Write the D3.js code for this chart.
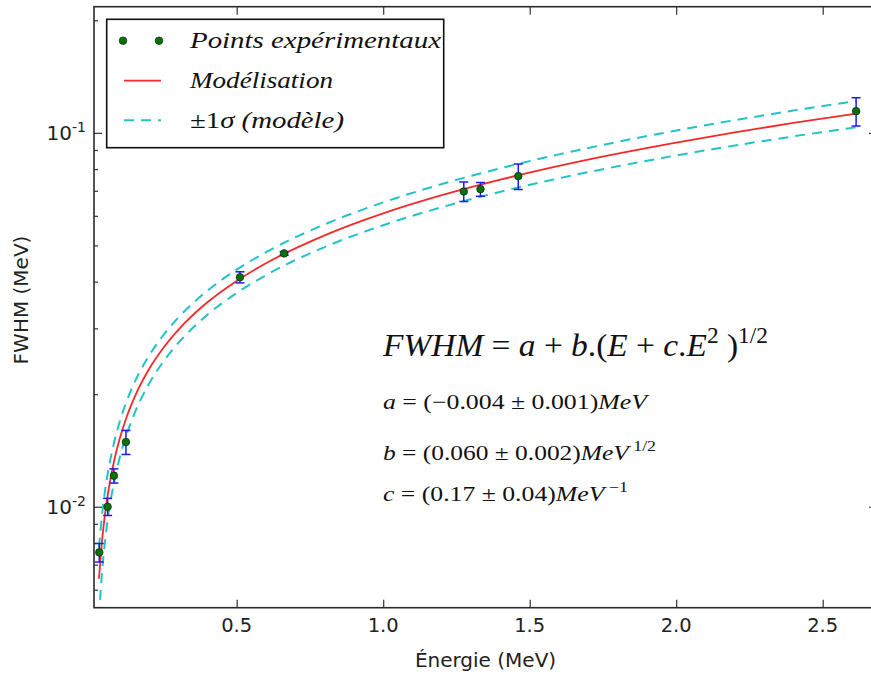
<!DOCTYPE html>
<html>
<head>
<meta charset="utf-8">
<script src="https://cdn.jsdelivr.net/npm/d3@7"></script>
<style>
  html, body { margin: 0; padding: 0; background: #ffffff; }
  svg { display: block; }
  text { white-space: pre; }
</style>
</head>
<body>
<div id="chart"></div>
<script>
// ---------------- data ----------------
const energies = [0.031, 0.0595, 0.081, 0.122, 0.511, 0.662, 1.275, 1.332, 1.461, 2.614];
const fwhm     = [0.00755, 0.0100, 0.0121, 0.0149, 0.0411, 0.0476, 0.0697, 0.0707, 0.0766, 0.1143];
const fwhmErr  = [0.00043, 0.00053, 0.00053, 0.0011, 0.0014, 0.0005, 0.0042, 0.0030, 0.0060, 0.0099];

const modelE     = [0.03, 0.04, 0.05, 0.06, 0.08, 0.1, 0.125, 0.15, 0.2, 0.25, 0.3, 0.4, 0.5, 0.6, 0.8, 1.0, 1.2, 1.4, 1.6, 1.8, 2.0, 2.2, 2.4, 2.614];
const modelFWHM  = [0.00642, 0.00804, 0.00947, 0.01077, 0.01309, 0.01513, 0.01744, 0.01953, 0.02329, 0.02663, 0.02969, 0.03522, 0.04019, 0.04479, 0.05320, 0.06090, 0.06812, 0.07499, 0.08160, 0.08799, 0.09422, 0.10032, 0.10630, 0.11259];
const modelUpper = [0.00777, 0.00945, 0.01094, 0.01228, 0.01468, 0.01681, 0.01920, 0.02139, 0.02530, 0.02880, 0.03201, 0.03782, 0.04307, 0.04795, 0.05691, 0.06517, 0.07296, 0.08041, 0.08760, 0.09460, 0.10143, 0.10814, 0.11473, 0.12169];
const modelLower = [0.00507, 0.00663, 0.00801, 0.00926, 0.01149, 0.01346, 0.01567, 0.01768, 0.02127, 0.02446, 0.02738, 0.03262, 0.03731, 0.04163, 0.04949, 0.05663, 0.06328, 0.06957, 0.07559, 0.08139, 0.08702, 0.09250, 0.09786, 0.10348];

const xTicks = [0.5, 1.0, 1.5, 2.0, 2.5];
const xTickLabels = ["0.5", "1.0", "1.5", "2.0", "2.5"];
const yMajorTicks = [0.01, 0.1];
const yMajorLabels = [["10", "-2"], ["10", "-1"]];
const yMinorTicks = [0.006, 0.007, 0.008, 0.009, 0.02, 0.03, 0.04, 0.05, 0.06, 0.07, 0.08, 0.09, 0.2];

const legendLabels = ["Points expérimentaux", "Modélisation", "\u00B11\u03C3 (modèle)"];

// ---------------- layout ----------------
const W = 871, H = 674;
const L = 94, T = 6.7, R = 877, B = 607.7;

const svg = d3.select("#chart").append("svg").attr("width", W).attr("height", H);

const x = d3.scaleLinear().domain([0.013, 2.6853]).range([L, R]);
const y = d3.scaleLog().domain([0.00537, 0.2175]).range([B, T]);

svg.append("clipPath").attr("id", "plotclip")
  .append("rect").attr("x", L).attr("y", T).attr("width", R - L).attr("height", B - T);

const plot = svg.append("g").attr("clip-path", "url(#plotclip)");

const pts = (xs, ys) => xs.map((e, i) => [e, ys[i]]);
const line = d3.line().x(d => x(d[0])).y(d => y(d[1])).curve(d3.curveMonotoneX);

// sigma bands
[modelUpper, modelLower].forEach(arr => {
  plot.append("path")
    .attr("d", line(pts(modelE, arr)))
    .attr("fill", "none")
    .attr("stroke", "#20c4c8")
    .attr("stroke-width", 2)
    .attr("stroke-dasharray", "10,7");
});

// model
plot.append("path")
  .attr("d", line(pts(modelE, modelFWHM)))
  .attr("fill", "none")
  .attr("stroke", "#f22a2a")
  .attr("stroke-width", 1.8);

// error bars
const eb = plot.append("g").attr("stroke", "#1a1aff").attr("stroke-width", 1.5).attr("fill", "none");
energies.forEach((e, i) => {
  const cx = x(e), y1 = y(fwhm[i] + fwhmErr[i]), y2 = y(fwhm[i] - fwhmErr[i]);
  eb.append("line").attr("x1", cx).attr("x2", cx).attr("y1", y1).attr("y2", y2);
  eb.append("line").attr("x1", cx - 4.5).attr("x2", cx + 4.5).attr("y1", y1).attr("y2", y1);
  eb.append("line").attr("x1", cx - 4.5).attr("x2", cx + 4.5).attr("y1", y2).attr("y2", y2);
});

// points
plot.append("g").selectAll("circle")
  .data(energies.map((e, i) => [e, fwhm[i]]))
  .join("circle")
  .attr("cx", d => x(d[0])).attr("cy", d => y(d[1]))
  .attr("r", 3.8)
  .attr("fill", "#0a700a")
  .attr("stroke", "#0a2a0a")
  .attr("stroke-width", 0.7);

// ---------------- axes ----------------
const tickColor = "#333";
function styleAxis(g) {
  g.select(".domain").remove();
  g.selectAll(".tick line").attr("stroke", tickColor).attr("stroke-width", 1.2);
}
svg.append("g").attr("transform", `translate(0,${B})`)
  .call(d3.axisBottom(x).tickValues(xTicks).tickSize(-8).tickFormat(""))
  .call(styleAxis);
svg.append("g").attr("transform", `translate(0,${T})`)
  .call(d3.axisTop(x).tickValues(xTicks).tickSize(-8).tickFormat(""))
  .call(styleAxis);
svg.append("g").attr("transform", `translate(${L},0)`)
  .call(d3.axisLeft(y).tickValues(yMajorTicks).tickSize(-8).tickFormat(""))
  .call(styleAxis);
svg.append("g").attr("transform", `translate(${L},0)`)
  .call(d3.axisLeft(y).tickValues(yMinorTicks).tickSize(-4).tickFormat(""))
  .call(styleAxis);
svg.append("g").attr("transform", `translate(${R},0)`)
  .call(d3.axisRight(y).tickValues(yMajorTicks).tickSize(-8).tickFormat(""))
  .call(styleAxis);
svg.append("g").attr("transform", `translate(${R},0)`)
  .call(d3.axisRight(y).tickValues(yMinorTicks).tickSize(-4).tickFormat(""))
  .call(styleAxis);

// frame
svg.append("rect").attr("x", L).attr("y", T).attr("width", R - L).attr("height", B - T)
  .attr("fill", "none").attr("stroke", "#2a2a2a").attr("stroke-width", 1.6);

// tick labels
const sans = "'DejaVu Sans', sans-serif";
svg.append("g").selectAll("text").data(xTicks).join("text")
  .attr("x", d => x(d)).attr("y", B + 24)
  .attr("text-anchor", "middle")
  .attr("font-family", sans).attr("font-size", 19.5).attr("fill", "#222")
  .text((d, i) => xTickLabels[i]);

yMajorTicks.forEach((v, i) => {
  const t = svg.append("text")
    .attr("x", 86).attr("y", y(v) + 7.5)
    .attr("text-anchor", "end")
    .attr("font-family", sans).attr("font-size", 20).attr("fill", "#222");
  t.append("tspan").text(yMajorLabels[i][0]);
  t.append("tspan").attr("font-size", 14).attr("dy", -8).text(yMajorLabels[i][1]);
});

// axis labels
svg.append("text")
  .attr("x", (L + R) / 2).attr("y", 667)
  .attr("text-anchor", "middle")
  .attr("font-family", sans).attr("font-size", 20).attr("fill", "#222")
  .text("Énergie (MeV)");
svg.append("text")
  .attr("transform", `translate(28,300) rotate(-90)`)
  .attr("text-anchor", "middle")
  .attr("font-family", sans).attr("font-size", 20).attr("fill", "#222")
  .text("FWHM (MeV)");

// ---------------- equation text ----------------
const serif = "Liberation Serif, Times New Roman, serif";
function mathText(xp, yp, size, parts, len) {
  const t = svg.append("text").attr("x", xp).attr("y", yp)
    .attr("font-family", serif).attr("font-size", size).attr("fill", "#111");
  let shift = 0;
  parts.forEach(p => {
    const s = t.append("tspan").text(p.t);
    if (p.it) s.attr("font-style", "italic");
    const target = p.sup ? -size * 0.42 : 0;
    if (target !== shift) { s.attr("dy", target - shift); shift = target; }
    if (p.sup) s.attr("font-size", size * 0.7);
  });
  if (len) t.attr("textLength", len).attr("lengthAdjust", "spacingAndGlyphs");
  return t;
}
mathText(383, 356, 32, [
  {t: "FWHM", it: true}, {t: " = "}, {t: "a", it: true}, {t: " + "}, {t: "b", it: true},
  {t: ".("}, {t: "E", it: true}, {t: " + "}, {t: "c", it: true}, {t: "."}, {t: "E", it: true},
  {t: "2", sup: true}, {t: " )"}, {t: "1/2", sup: true}
], 385);
mathText(383, 409, 21, [
  {t: "a", it: true}, {t: " = (\u22120.004 \u00B1 0.001)"}, {t: "MeV", it: true}
], 264);
mathText(383, 460, 21, [
  {t: "b", it: true}, {t: " = (0.060 \u00B1 0.002)"}, {t: "MeV", it: true}, {t: " 1/2", sup: true}
], 273);
mathText(383, 501, 21, [
  {t: "c", it: true}, {t: " = (0.17 \u00B1 0.04)"}, {t: "MeV", it: true}, {t: " \u22121", sup: true}
], 245);

// ---------------- legend ----------------
const lg = svg.append("g");
lg.append("rect").attr("x", 106.7).attr("y", 19.3).attr("width", 337).attr("height", 128.4)
  .attr("fill", "#fff").attr("stroke", "#111").attr("stroke-width", 1.6);
const rowY = [40.7, 80.7, 120.3];
const legendLens = [251, 143, 154];
[123, 159].forEach(cx => {
  lg.append("circle").attr("cx", cx).attr("cy", rowY[0]).attr("r", 3.8)
    .attr("fill", "#0a700a").attr("stroke", "#0a2a0a").attr("stroke-width", 0.7);
});
lg.append("line").attr("x1", 124).attr("x2", 161).attr("y1", rowY[1]).attr("y2", rowY[1])
  .attr("stroke", "#f22a2a").attr("stroke-width", 1.8);
lg.append("line").attr("x1", 124).attr("x2", 161).attr("y1", rowY[2]).attr("y2", rowY[2])
  .attr("stroke", "#20c4c8").attr("stroke-width", 2).attr("stroke-dasharray", "10,7");
legendLabels.forEach((lab, i) => {
  const t = lg.append("text").attr("x", 190).attr("y", rowY[i] + 7.6)
    .attr("font-family", serif).attr("font-size", 23).attr("fill", "#111")
    .attr("textLength", legendLens[i]).attr("lengthAdjust", "spacingAndGlyphs");
  if (i === 2) {
    t.append("tspan").text("\u00B11");
    t.append("tspan").attr("font-style", "italic").text("\u03C3 (modèle)");
  } else {
    t.attr("font-style", "italic").text(lab);
  }
});
</script>
</body>
</html>
